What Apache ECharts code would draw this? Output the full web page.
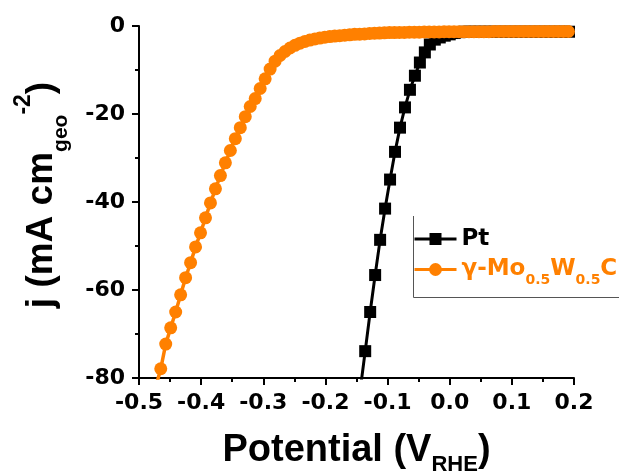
<!DOCTYPE html>
<html>
<head>
<meta charset="utf-8">
<script src="https://cdn.jsdelivr.net/npm/echarts@6/dist/echarts.min.js"></script>
<style>
  html, body { margin: 0; padding: 0; background: #fff; }
  #main { width: 619px; height: 475px; }
</style>
</head>
<body>
<div id="main"></div>
<script>
// polarisation curves (V vs RHE, mA cm-2)
var ptVoltage = [-0.144, -0.136, -0.128, -0.120, -0.112, -0.104, -0.096, -0.088, -0.080, -0.072,
  -0.064, -0.056, -0.048, -0.040, -0.032, -0.024, -0.016, -0.008, 0.000, 0.008,
  0.016, 0.024, 0.032, 0.040, 0.048, 0.056, 0.064, 0.072, 0.080, 0.088,
  0.096, 0.104, 0.112, 0.120, 0.128, 0.136, 0.144, 0.152, 0.160, 0.168,
  0.176, 0.184, 0.192];
var ptCurrent = [-82.7, -73.9, -65.0, -56.6, -48.6, -41.5, -34.9, -28.6, -23.1, -18.5,
  -14.5, -11.3, -8.3, -6.0, -4.2, -3.1, -2.6, -2.2, -1.9, -1.6,
  -1.4, -1.3, -1.3, -1.3, -1.3, -1.3, -1.3, -1.3, -1.3, -1.3,
  -1.3, -1.3, -1.3, -1.3, -1.3, -1.3, -1.3, -1.3, -1.3, -1.3,
  -1.3, -1.3, -1.3];

var moVoltage = [-0.473, -0.465, -0.457, -0.449, -0.441, -0.433, -0.425, -0.417, -0.409, -0.401,
  -0.393, -0.385, -0.377, -0.369, -0.361, -0.353, -0.345, -0.337, -0.329, -0.321,
  -0.313, -0.305, -0.297, -0.289, -0.281, -0.273, -0.265, -0.257, -0.249, -0.241,
  -0.233, -0.225, -0.217, -0.209, -0.201, -0.193, -0.185, -0.177, -0.169, -0.161,
  -0.153, -0.145, -0.137, -0.129, -0.121, -0.113, -0.105, -0.097, -0.089, -0.081,
  -0.073, -0.065, -0.057, -0.049, -0.041, -0.033, -0.025, -0.017, -0.009, -0.001,
  0.007, 0.015, 0.023, 0.031, 0.039, 0.047, 0.055, 0.063, 0.071, 0.079,
  0.087, 0.095, 0.103, 0.111, 0.119, 0.127, 0.135, 0.143, 0.151, 0.159,
  0.167, 0.175, 0.183, 0.191];
var moCurrent = [-82.0, -77.9, -72.3, -68.6, -65.0, -61.1, -57.2, -53.8, -50.2, -47.0,
  -43.6, -40.2, -37.0, -34.0, -31.1, -28.3, -25.6, -23.1, -20.6, -18.3,
  -16.5, -14.2, -12.0, -9.8, -8.0, -6.7, -5.8, -5.0, -4.4, -3.9,
  -3.5, -3.2, -2.95, -2.75, -2.55, -2.4, -2.3, -2.2, -2.1, -2.0,
  -1.9, -1.85, -1.8, -1.7, -1.65, -1.6, -1.55, -1.5, -1.5, -1.45,
  -1.45, -1.4, -1.4, -1.4, -1.35, -1.35, -1.35, -1.35, -1.3, -1.3,
  -1.3, -1.3, -1.3, -1.3, -1.3, -1.3, -1.3, -1.3, -1.25, -1.25,
  -1.25, -1.25, -1.25, -1.25, -1.25, -1.25, -1.25, -1.25, -1.25, -1.25,
  -1.25, -1.25, -1.25, -1.25];

var seriesNames = ['Pt', 'γ-Mo0.5W0.5C'];

var ORANGE = '#ff8000';
var TICK_FONT = 'DejaVu Sans';
var TITLE_FONT = 'Liberation Sans';

function pairs(xs, ys) {
  return xs.map(function (x, i) { return [x, ys[i]]; });
}

var chart = echarts.init(document.getElementById('main'), null, { renderer: 'canvas' });

var axisCommon = {
  axisLine: { onZero: false, lineStyle: { color: '#000', width: 2 } },
  axisTick: { inside: false, length: 7, lineStyle: { color: '#000', width: 2 } },
  minorTick: { show: true, splitNumber: 2, length: 4, lineStyle: { color: '#000', width: 2 } },
  splitLine: { show: false },
  axisLabel: {
    color: '#000',
    fontFamily: TICK_FONT,
    fontWeight: 'bold',
    fontSize: 22,
    margin: 14
  }
};

var option = {
  backgroundColor: '#fff',
  animation: false,
  grid: { left: 139, right: 45, top: 26, bottom: 97, containLabel: false },
  xAxis: echarts.util.merge({
    type: 'value',
    min: -0.5,
    max: 0.2,
    interval: 0.1,
    axisLabel: {
      formatter: function (v) { return v.toFixed(1); },
      showMinLabel: true,
      showMaxLabel: true
    }
  }, axisCommon),
  yAxis: echarts.util.merge({
    type: 'value',
    min: -80,
    max: 0,
    interval: 20
  }, axisCommon),
  legend: [
    {
      data: [seriesNames[0]],
      left: 413,
      top: 225,
      padding: 0,
      itemWidth: 42,
      itemHeight: 15,
      lineStyle: { width: 3 },
      textStyle: { color: '#000', fontFamily: TICK_FONT, fontWeight: 'bold', fontSize: 23, lineHeight: 28 }
    },
    {
      data: [seriesNames[1]],
      left: 413,
      top: 258,
      padding: 0,
      itemWidth: 42,
      itemHeight: 16,
      lineStyle: { width: 3 },
      formatter: function () {
        return '{a|γ-Mo}{s|0.5}{a|W}{s|0.5}{a|C}';
      },
      textStyle: {
        color: ORANGE,
        fontFamily: TICK_FONT,
        fontWeight: 'bold',
        fontSize: 23,
        rich: {
          a: { color: ORANGE, fontFamily: TICK_FONT, fontWeight: 'bold', fontSize: 23, lineHeight: 36 },
          s: { color: ORANGE, fontFamily: TICK_FONT, fontWeight: 'bold', fontSize: 14, lineHeight: 16, verticalAlign: 'bottom' }
        }
      }
    }
  ],
  series: [
    {
      name: seriesNames[0],
      type: 'line',
      data: pairs(ptVoltage, ptCurrent),
      symbol: 'rect',
      symbolSize: 12,
      showAllSymbol: true,
      clip: true,
      lineStyle: { color: '#000', width: 3 },
      itemStyle: { color: '#000', borderWidth: 0 }
    },
    {
      name: seriesNames[1],
      type: 'line',
      data: pairs(moVoltage, moCurrent),
      symbol: 'circle',
      symbolSize: 13,
      showAllSymbol: true,
      clip: true,
      lineStyle: { color: ORANGE, width: 3.5 },
      itemStyle: { color: ORANGE, borderWidth: 0 }
    }
  ],
  graphic: [
    // legend frame (left and bottom edge only, the rest is off the picture)
    {
      type: 'polyline',
      shape: { points: [[413.5, 216], [413.5, 297.5], [619, 297.5]] },
      style: { stroke: '#555', lineWidth: 1, fill: null },
      silent: true
    },
    {
      type: 'text',
      x: 356.5,
      y: 451,
      style: {
        text: '{b|Potential (V}{sub|RHE}{b|)}',
        align: 'center',
        verticalAlign: 'middle',
        rich: {
          b: { fill: '#000', fontFamily: TITLE_FONT, fontWeight: 'bold', fontSize: 38, lineHeight: 50 },
          sub: { fill: '#000', fontFamily: TITLE_FONT, fontWeight: 'bold', fontSize: 22, lineHeight: 27, verticalAlign: 'bottom' }
        }
      }
    },
    {
      type: 'text',
      x: 42,
      y: 195,
      rotation: Math.PI / 2,
      style: {
        text: '{b|j (mA cm}{sub|geo}{sup|-2}{b|)}',
        align: 'center',
        verticalAlign: 'middle',
        rich: {
          b: { fill: '#000', fontFamily: TITLE_FONT, fontWeight: 'bold', fontSize: 37, lineHeight: 60 },
          sub: { fill: '#000', fontFamily: TITLE_FONT, fontWeight: 'bold', fontSize: 21, lineHeight: 28, verticalAlign: 'bottom' },
          sup: { fill: '#000', fontFamily: TITLE_FONT, fontWeight: 'bold', fontSize: 23, lineHeight: 23, verticalAlign: 'top' }
        }
      }
    }
  ]
};

chart.setOption(option);
</script>
</body>
</html>
